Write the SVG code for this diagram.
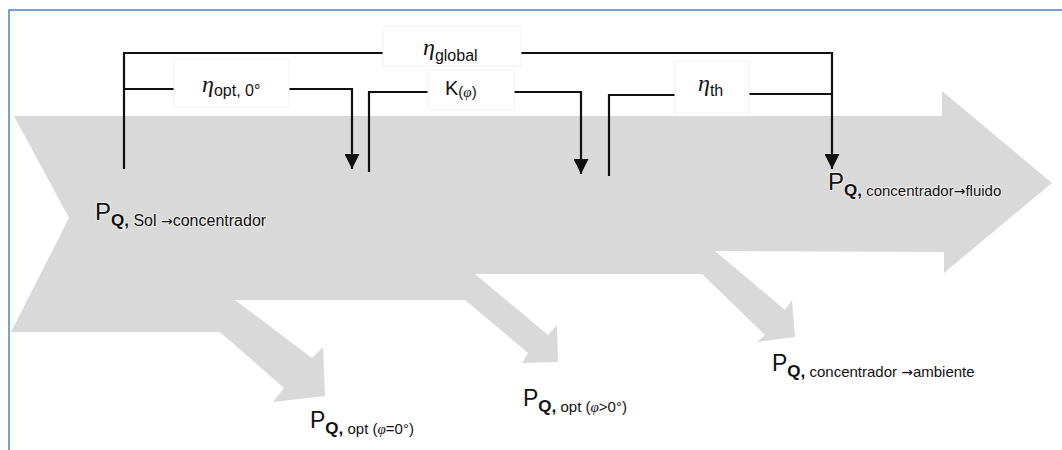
<svg xmlns="http://www.w3.org/2000/svg" width="1062" height="450" viewBox="0 0 1062 450">
  <defs>
    <style>
      .frame { fill: none; stroke: #4f81bd; stroke-width: 1.5; }
      .flow { fill: #d9d9d9; stroke: none; }
      .br { fill: none; stroke: #111; stroke-width: 2.2; }
      .box { fill: #ffffff; stroke: #f2f2f2; stroke-width: 1; }
      .sans { font-family: "Liberation Sans", Arial, sans-serif; fill: #111; }
      .eta { font-family: "Liberation Serif", "Times New Roman", serif; font-style: italic; fill: #111; }
      .ar { font-family: "DejaVu Sans", sans-serif; font-size: 14px; }
      .halo { paint-order: stroke; stroke: #ffffff; stroke-opacity: 0.55; stroke-width: 2; }
      .big { font-size: 23px; }
      .sub { font-size: 15px; }
      .q { font-size: 17px; font-weight: bold; }
    </style>
    <marker id="arr" markerUnits="userSpaceOnUse" markerWidth="15" markerHeight="15" viewBox="0 0 15 15" refX="15" refY="7.5" orient="auto">
      <path d="M0,0 L15,7.5 L0,15 z" fill="#111"/>
    </marker>
  </defs>

  <rect width="1062" height="450" fill="#ffffff"/>
  <path class="frame" d="M9,450 V10 H1062"/>

  <g id="flow">
    <polygon class="flow" points="14,116 942,116 942,91 1052,183 944,273 944,252 715,251 785,310 792,300 795,337 757,342 765,335 702,274 475,274 548,335 557,325 558,362 522,363 528,353 465,300 235,300 312,358 323,347 325,396 273,402 284,388 220,332 11,332 69,218"/>
  </g>

  <g id="connectors">
    <path class="br" d="M124,169 V53 H383"/>
    <path class="br" d="M521,53 H832 V169" marker-end="url(#arr)"/>
    <path class="br" d="M124,89 H174"/>
    <path class="br" d="M289,89 H352 V169" marker-end="url(#arr)"/>
    <path class="br" d="M369,172 V92 H428"/>
    <path class="br" d="M514,92 H581 V174" marker-end="url(#arr)"/>
    <path class="br" d="M609,176 V95 H675"/>
    <path class="br" d="M749,94 H832"/>
  </g>

  <g id="eta-global">
    <rect class="box" x="383" y="26" width="138" height="40"/>
    <text x="423" y="55"><tspan class="eta" font-size="24">η</tspan><tspan class="sans" font-size="16" dy="6">global</tspan></text>
  </g>
  <g id="eta-opt">
    <rect class="box" x="174" y="59" width="115" height="48"/>
    <text x="202" y="92"><tspan class="eta" font-size="24">η</tspan><tspan class="sans" font-size="16" dy="4">opt, 0°</tspan></text>
  </g>
  <g id="k-phi">
    <rect class="box" x="428" y="70" width="86" height="40"/>
    <text x="445" y="95"><tspan class="sans" font-size="20">K</tspan><tspan class="sans" font-size="15" dy="2">(</tspan><tspan class="eta" font-size="15">φ</tspan><tspan class="sans" font-size="15">)</tspan></text>
  </g>
  <g id="eta-th">
    <rect class="box" x="675" y="61" width="74" height="52"/>
    <text x="698" y="91"><tspan class="eta" font-size="24">η</tspan><tspan class="sans" font-size="16" dy="5">th</tspan></text>
  </g>

  <g id="p-sol">
    <text class="sans halo" x="95" y="220"><tspan font-size="24">P</tspan><tspan class="q" dy="6">Q,</tspan><tspan font-size="16"> Sol </tspan><tspan class="ar">→</tspan><tspan font-size="16">concentrador</tspan></text>
  </g>
  <g id="p-fluido">
    <text class="sans halo" x="828" y="190"><tspan font-size="24">P</tspan><tspan class="q" dy="6">Q,</tspan><tspan class="sub"> concentrador</tspan><tspan class="ar">→</tspan><tspan class="sub">fluido</tspan></text>
  </g>
  <g id="p-opt0">
    <text class="sans" x="310" y="428"><tspan class="big">P</tspan><tspan class="q" dy="6">Q,</tspan><tspan class="sub"> opt (</tspan><tspan class="eta" font-size="15">φ</tspan><tspan class="sub">=0°)</tspan></text>
  </g>
  <g id="p-opt">
    <text class="sans" x="523" y="406"><tspan class="big">P</tspan><tspan class="q" dy="6">Q,</tspan><tspan class="sub"> opt (</tspan><tspan class="eta" font-size="15">φ</tspan><tspan class="sub">&gt;0°)</tspan></text>
  </g>
  <g id="p-ambiente">
    <text class="sans" x="772" y="371"><tspan class="big">P</tspan><tspan class="q" dy="6">Q,</tspan><tspan class="sub"> concentrador </tspan><tspan class="ar">→</tspan><tspan class="sub">ambiente</tspan></text>
  </g>
</svg>
